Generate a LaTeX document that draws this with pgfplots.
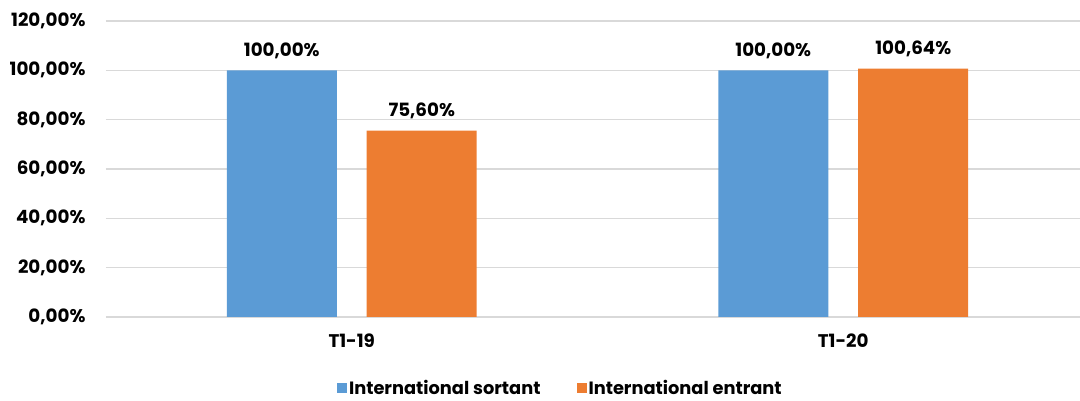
\documentclass[border=0pt]{standalone}
\usepackage{pgfplots}
\pgfplotsset{compat=1.18}
\usepackage{fontspec}
\setmainfont{Poppins}
\definecolor{cblue}{HTML}{5B9BD5}
\definecolor{corange}{HTML}{ED7D31}
\definecolor{cgrid}{HTML}{D9D9D9}
\newcommand{\lf}{\fontsize{18.3}{20}\selectfont\bfseries}
\newcommand{\lgf}{\fontsize{17.8}{20}\selectfont\bfseries}
\begin{document}
\begin{tikzpicture}[x=1pt,y=1pt]
\useasboundingbox (0,0) rectangle (1080,401);
\begin{axis}[
  at={(106pt,84pt)}, anchor=south west,
  scale only axis, width=974pt, height=296pt,
  xmin=-0.5, xmax=1.4817, ymin=0, ymax=120,
  ytick={0,20,...,120},
  xtick={0,1}, xticklabels={T1-19,T1-20},
  axis line style={draw=none},
  ymajorgrids, grid style={cgrid, line width=1.4pt},
  major tick length=0pt,
  /pgf/number format/assume math mode=true,
  yticklabel={\pgfmathprintnumber[fixed,fixed zerofill,precision=2,use comma]{\tick}\%},
  yticklabel style={font=\lf, xshift=-17pt},
  xticklabel style={font=\lf, yshift=-13pt},
  ybar, bar width=0.2238,
  nodes near coords={\pgfmathprintnumber[fixed,fixed zerofill,precision=2,use comma]{\pgfplotspointmeta}\%},
  nodes near coords style={font=\lf, color=black, anchor=south, yshift=8pt},
  legend style={at={(0.4665,-0.24)}, anchor=center, draw=none, font=\lgf,
    legend columns=2, /tikz/every even column/.append style={column sep=34pt}},
  legend image code/.code={\fill[#1] (0pt,-5pt) rectangle (10pt,5pt);},
  clip=false,
]
\addplot[fill=cblue, draw=none, bar shift=-0.1424] coordinates {(0,100) (1,100)};
\addplot[fill=corange, draw=none, bar shift=0.1424] coordinates {(0,75.60) (1,100.64)};
\legend{International sortant, International entrant}
\end{axis}
\end{tikzpicture}
\end{document}
